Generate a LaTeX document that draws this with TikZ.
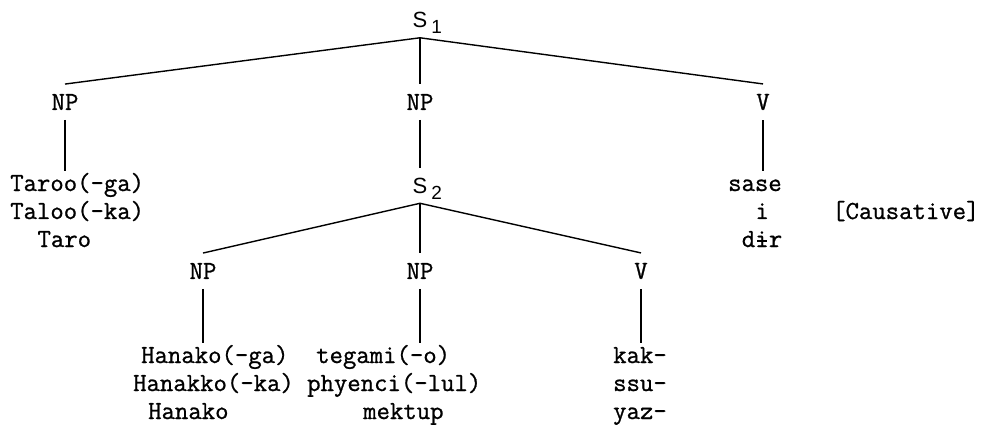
\documentclass[tikz,border=0pt]{standalone}
\usepackage{fontspec}
% typewriter face for the tree labels, sans face for the S categories
\newfontfamily\treemono{Latin Modern Mono}[FakeBold=0.9]
\newfontfamily\treesans{Liberation Sans}
\newcommand\labfnt{\treemono\fontsize{26}{28}\selectfont}
% barred i, kept at one character width
\newcommand\ibar{\rlap{i}\hbox to 0.525em{\hss\raisebox{0.2em}{\rule{0.36em}{0.06em}}\hss}}
% S with a lowered index that does not change the node box
\newcommand\scat[1]{{\treesans\fontsize{22}{22}\selectfont S\rlap{\hspace{4pt}\smash{\raisebox{-6pt}{\fontsize{19}{19}\selectfont #1}}}}}
\newcommand\lines[1]{\begin{tabular}[t]{@{}l@{}}#1\end{tabular}}

\tikzset{
  edge/.style={line width=1.4pt},
  cat/.style={inner sep=0pt, outer xsep=0pt, outer ysep=10pt},
  lab/.style={font=\labfnt, inner sep=0pt, outer xsep=0pt, outer ysep=10pt},
  blk/.style={font=\labfnt, inner sep=0pt, anchor=base west},
}

\begin{document}
\begin{tikzpicture}[x=1pt, y=-1pt]
\useasboundingbox (0,0) rectangle (988,425);

% upper clause
\node[cat] (s1) at (420,20) {\scat{1}};
\node[lab] (npA) at (65,102) {NP};
\node[lab] (npB) at (420,102) {NP};
\node[lab] (vA) at (763,102) {V};

\node[blk] (taroo) at (10,191) {\lines{Taroo(-ga)\\Taloo(-ka)\\\hspace{1.05em}Taro}};
\node[blk] (sase) at (728,191) {\lines{sase\\\hspace{1.05em}i\\\hspace{0.525em}d\ibar r}};
\node[blk] (caus) at (832,219) {[Causative]};

% embedded clause
\node[cat] (s2) at (420,185.5) {\scat{2}};
\node[lab] (npC) at (203,271) {NP};
\node[lab] (npD) at (420,271) {NP};
\node[lab] (vB) at (641,271) {V};

\node[blk] (hanako) at (133,363) {\lines{\hspace{8pt}Hanako(-ga)\\Hanakko(-ka)\\\hspace{15pt}Hanako}};
\node[blk] (tegami) at (307,363) {\lines{\hspace{9pt}tegami(-o)\\phyenci(-lul)\\\hspace{56pt}mektup}};
\node[blk] (kak) at (613,363) {\lines{kak-\\ssu-\\yaz-}};

% branches
\draw[edge] (s1.south) -- (npA.north);
\draw[edge] (s1.south) -- (npB.north);
\draw[edge] (s1.south) -- (vA.north);
\draw[edge] (npA.south) -- (npA.south |- taroo.north);
\draw[edge] (npB.south) -- (s2.north);
\draw[edge] (vA.south) -- (vA.south |- sase.north);

\draw[edge] (s2.south) -- (npC.north);
\draw[edge] (s2.south) -- (npD.north);
\draw[edge] (s2.south) -- (vB.north);
\draw[edge] (npC.south) -- (npC.south |- hanako.north);
\draw[edge] (npD.south) -- (npD.south |- tegami.north);
\draw[edge] (vB.south) -- (vB.south |- kak.north);
\end{tikzpicture}
\end{document}
